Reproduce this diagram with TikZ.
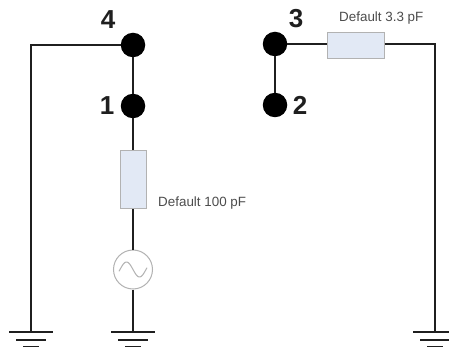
\documentclass[tikz,border=0pt]{standalone}
\usepackage{fontspec}
\setmainfont{Liberation Sans}
\definecolor{boxfill}{RGB}{226,233,245}
\tikzset{
  wire/.style={line width=2pt,black!88},
  term/.style={circle,fill=black,draw=none,minimum size=24.5pt,inner sep=0pt},
  pinlabel/.style={font=\fontsize{26}{26}\selectfont\bfseries,text=black!88,inner sep=0pt},
  capbox/.style={draw=black!30,line width=1pt,fill=boxfill,inner sep=0pt},
  note/.style={font=\fontsize{13.4}{14}\selectfont,text=black!70,inner sep=0pt,anchor=west},
  source/.style={circle,draw=black!30,line width=1pt,fill=white,minimum size=39pt,inner sep=0pt},
  gnd/.style={line width=2pt,black!88}
}
\begin{document}
\begin{tikzpicture}[x=1pt,y=-1pt]
\useasboundingbox (0,0) rectangle (449,347);
\coordinate (g1) at (31,332);
\coordinate (g2) at (133,332);
\coordinate (g3) at (435,332);
\coordinate (k1) at (31,45);
\coordinate (k3) at (435,44);
\node[term] (p4) at (133,45) {};
\node[term] (p1) at (133,106) {};
\node[term] (p3) at (275,44) {};
\node[term] (p2) at (275,105) {};
\node[pinlabel] (l4) at (108,20) {4};
\node[pinlabel] (l1) at (107,106) {1};
\node[pinlabel] (l3) at (296,19) {3};
\node[pinlabel] (l2) at (300,105) {2};
\node[capbox,minimum width=26pt,minimum height=58pt] (c1) at (133,180) {};
\node[capbox,minimum width=57pt,minimum height=26pt] (c2) at (355.5,46) {};
\node[source] (s) at (133,269.5) {};
\node[note] (n1) at (158,203) {Default 100 pF};
\node[note] (n2) at (339,18) {Default 3.3 pF};
\draw[wire] (p4) -- (k1) -- (g1);
\draw[wire] (p4) -- (p1);
\draw[wire] (p1) -- (c1);
\draw[wire] (c1) -- (s);
\draw[wire] (s) -- (g2);
\draw[wire] (p3) -- (p2);
\draw[wire] (p3) -- (p3 -| c2.west);
\draw[wire] (k3 -| c2.east) -- (k3) -- (g3);
\draw[black!30,line width=1pt,smooth,domain=-14:14,samples=40] plot ({133+\x},{269.5+7.5*sin(\x*180/13)});
\foreach \g in {g1,g2,g3}{
  \draw[gnd] ([xshift=-22pt]\g) -- ([xshift=22pt]\g);
  \draw[gnd] ([shift={(-15pt,-8pt)}]\g) -- ([shift={(15pt,-8pt)}]\g);
  \draw[line width=3pt,black!88] ([shift={(-8pt,-15.5pt)}]\g) -- ([shift={(8pt,-15.5pt)}]\g);
}
\end{tikzpicture}
\end{document}
